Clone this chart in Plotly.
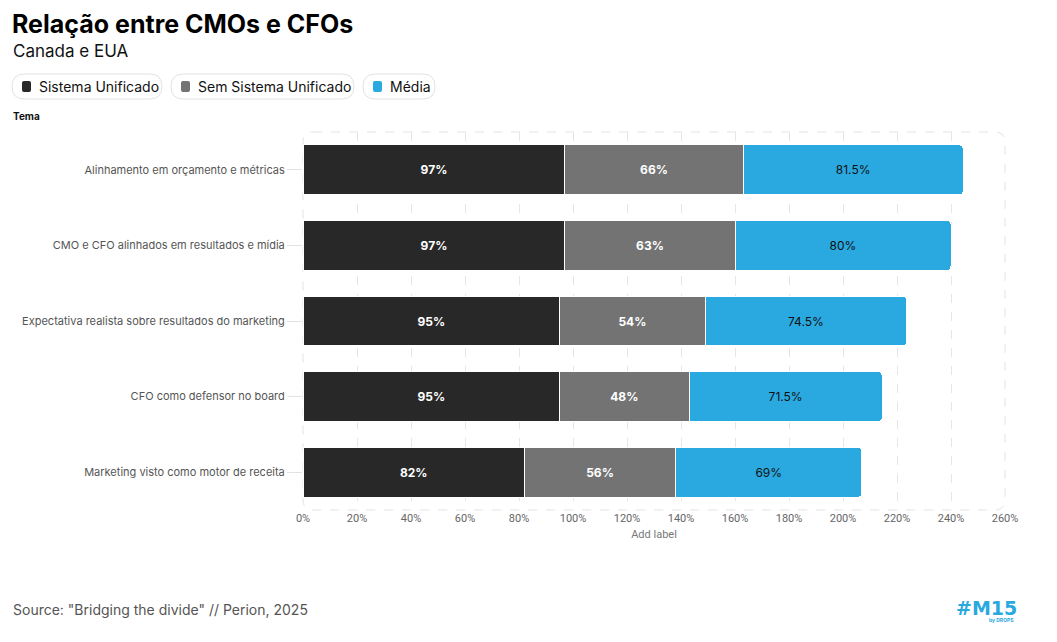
import plotly.graph_objects as go

categories = [
    "Alinhamento em orçamento e métricas",
    "CMO e CFO alinhados em resultados e mídia",
    "Expectativa realista sobre resultados do marketing",
    "CFO como defensor no board",
    "Marketing visto como motor de receita",
]
sistema_unificado = [97, 97, 95, 95, 82]
sem_sistema = [66, 63, 54, 48, 56]
media = [81.5, 80, 74.5, 71.5, 69]
series_names = ["Sistema Unificado", "Sem Sistema Unificado", "Média"]
x_ticks = list(range(0, 261, 20))

OFF = 8  # page body margin
W, H = 1057 - 2 * OFF, 642 - 2 * OFF
L, R, T, B = 303 - OFF, 1005 - OFF, 132 - OFF, 510 - OFF
FONT = "Inter"

def px(x):
    return (x - OFF - L) / (R - L)

def py(y):
    return (B - (y - OFF)) / (B - T)

def rrect(x0, y0, x1, y1, r):
    pts = [
        f"M {px(x0 + r)} {py(y0)}",
        f"L {px(x1 - r)} {py(y0)}",
        f"Q {px(x1)} {py(y0)} {px(x1)} {py(y0 + r)}",
        f"L {px(x1)} {py(y1 - r)}",
        f"Q {px(x1)} {py(y1)} {px(x1 - r)} {py(y1)}",
        f"L {px(x0 + r)} {py(y1)}",
        f"Q {px(x0)} {py(y1)} {px(x0)} {py(y1 - r)}",
        f"L {px(x0)} {py(y0 + r)}",
        f"Q {px(x0)} {py(y0)} {px(x0 + r)} {py(y0)}",
        "Z",
    ]
    return " ".join(pts)

colors = ["#282828", "#737373", "#29a9e0"]
text_colors = ["#ffffff", "#ffffff", "#111111"]
text_weights = ["bold", "bold", "normal"]
values = [sistema_unificado, sem_sistema, media]

fig = go.Figure()
for name, vals, c, tc, tw in zip(series_names, values, colors, text_colors, text_weights):
    fig.add_trace(go.Bar(
        y=categories, x=vals, name=name, orientation="h",
        marker=dict(color=c, line=dict(color="#ffffff", width=1)),
        text=[f"{v:g}%" for v in vals],
        textposition="inside", insidetextanchor="middle",
        textfont=dict(family=FONT, size=12, color=tc, weight=tw),
        hovertemplate="%{y}: %{x}%<extra>" + name + "</extra>",
    ))

shapes = []
shapes.append(dict(type="path", xref="paper", yref="paper",
                   path=rrect(303, 132, 1005, 510, 10),
                   line=dict(color="#e3e3e3", width=1, dash="dash"), layer="below"))

pills = [(12, 162), (171, 354), (363, 435)]
annotations = []
for (x0, x1), name, c in zip(pills, series_names, colors):
    shapes.append(dict(type="path", xref="paper", yref="paper",
                       path=rrect(x0, 74, x1, 99, 12.5),
                       line=dict(color="#e2e2e2", width=1), fillcolor="#ffffff"))
    shapes.append(dict(type="path", xref="paper", yref="paper",
                       path=rrect(x0 + 10, 81, x0 + 19, 92, 2),
                       line=dict(width=0), fillcolor=c))
    annotations.append(dict(xref="paper", yref="paper", x=px(x0 + 25), y=py(86.5),
                            text=name, showarrow=False, xanchor="left", yanchor="middle",
                            font=dict(family=FONT, size=14, color="#111111")))

annotations += [
    dict(xref="paper", yref="paper", x=px(11), y=py(8), text="<b>Relação entre CMOs e CFOs</b>",
         showarrow=False, xanchor="left", yanchor="top", borderpad=0,
         font=dict(family=FONT, size=25, color="#000000")),
    dict(xref="paper", yref="paper", x=px(11), y=py(51), text="Canada e EUA",
         showarrow=False, xanchor="left", yanchor="middle",
         font=dict(family=FONT, size=17, color="#111111")),
    dict(xref="paper", yref="paper", x=px(11), y=py(116), text="<b>Tema</b>",
         showarrow=False, xanchor="left", yanchor="middle",
         font=dict(family=FONT, size=10, color="#111111")),
    dict(xref="paper", yref="paper", x=px(11), y=py(609),
         text='Source: "Bridging the divide" // Perion, 2025',
         showarrow=False, xanchor="left", yanchor="middle",
         font=dict(family=FONT, size=14, color="#555555")),
    dict(xref="paper", yref="paper", x=px(1019), y=py(608), text="<b>#M15</b>",
         showarrow=False, xanchor="right", yanchor="middle",
         font=dict(family="DejaVu Sans", size=19, color="#29a9e0")),
    dict(xref="paper", yref="paper", x=px(1016), y=py(620), text="<b>by DROPS</b>",
         showarrow=False, xanchor="right", yanchor="middle",
         font=dict(family=FONT, size=5, color="#29a9e0")),
]

fig.update_layout(
    width=W, height=H,
    margin=dict(l=L, r=W - R, t=T, b=H - B, pad=0),
    barmode="stack", bargap=0.34, barcornerradius=4,
    plot_bgcolor="#ffffff", paper_bgcolor="#ffffff",
    showlegend=False,
    font=dict(family=FONT, color="#555555"),
    shapes=shapes, annotations=annotations,
    xaxis=dict(
        range=[0, 260], tickvals=x_ticks, ticktext=[f"{v}%" for v in x_ticks],
        showgrid=True, gridcolor="#e6e6e6", griddash="dash", gridwidth=1,
        zeroline=False, showline=False, ticks="",
        tickfont=dict(family="Roboto", size=11, color="#666666"),
        title=dict(text="Add label", font=dict(family="Roboto", size=11, color="#777777"),
                   standoff=6),
    ),
    yaxis=dict(
        categoryorder="array", categoryarray=categories, autorange="reversed",
        showgrid=False, zeroline=False, showline=False,
        ticks="outside", ticklen=15, tickcolor="#e3e3e3", tickwidth=1,
        tickfont=dict(family=FONT, size=11, color="#555555"),
    ),
)

fig.write_html("out.html")
